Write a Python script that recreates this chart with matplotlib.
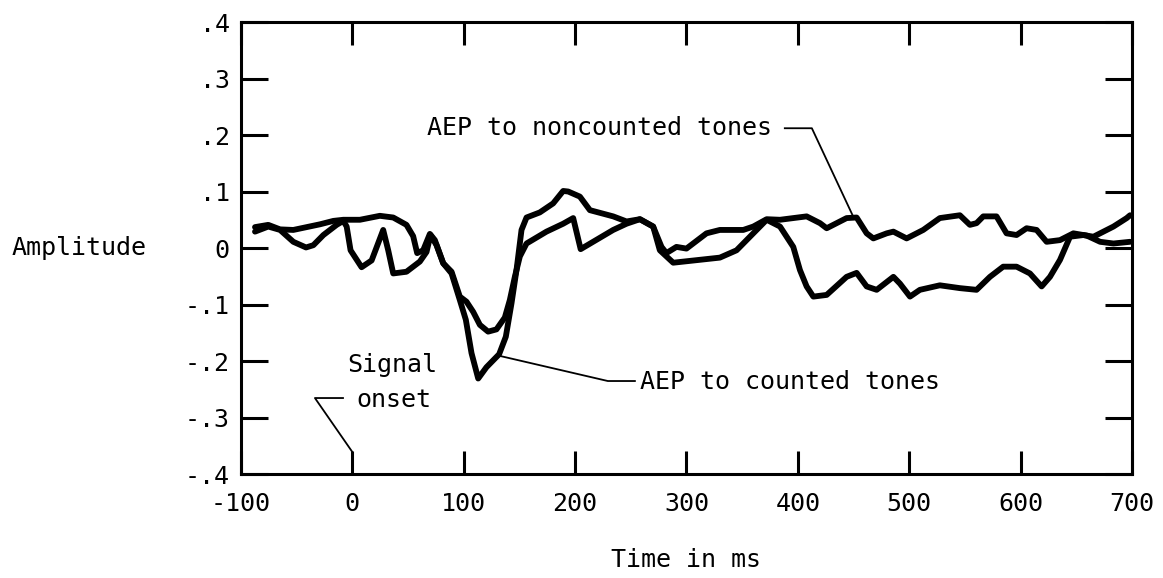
import matplotlib
matplotlib.use('Agg')
import matplotlib.pyplot as plt

plt.rcParams['font.family'] = ['DejaVu Sans Mono']

# AEP to counted tones (deep dip near 115 ms)
counted_t = [-87.4, -75.5, -64.9, -53.0, -41.6, -35.0, -26.0, -14.1, -8.1, -5.1, -1.6, 8.3,
             17.3, 27.7, 32.2, 36.7, 48.6, 60.6, 66.6, 70.2, 75.6, 81.6, 89.1, 96.5, 101.9,
             107.0, 113.0, 120.4, 131.8, 137.8, 142.9, 147.4, 151.9, 156.4, 168.3, 180.3,
             189.3, 193.8, 204.3, 213.3, 234.2, 246.2, 258.2, 270.1, 276.1, 288.1, 330.0,
             345.0, 363.0, 372.0, 384.0, 395.9, 401.9, 407.9, 413.9, 425.9, 443.8, 452.8,
             461.8, 470.8, 485.8, 491.7, 500.7, 509.6, 527.5, 545.5, 560.5, 572.5, 584.4,
             596.4, 608.4, 618.9, 626.4, 635.4, 644.4, 656.4, 665.4, 674.4, 683.4, 695.3, 698.3]
counted_v = [0.029, 0.038, 0.032, 0.011, 0.001, 0.005, 0.023, 0.041, 0.048, 0.038, -0.004, -0.034,
             -0.022, 0.032, -0.004, -0.045, -0.042, -0.024, -0.007, 0.023, 0.005, -0.027, -0.045,
             -0.092, -0.127, -0.186, -0.231, -0.211, -0.188, -0.157, -0.098, -0.039, 0.032, 0.054,
             0.063, 0.079, 0.101, 0.100, 0.091, 0.067, 0.056, 0.047, 0.051, 0.038, -0.004, -0.026,
             -0.017, -0.004, 0.032, 0.050, 0.038, 0.002, -0.039, -0.068, -0.086, -0.083, -0.051,
             -0.044, -0.068, -0.074, -0.051, -0.063, -0.086, -0.074, -0.066, -0.071, -0.074,
             -0.051, -0.033, -0.033, -0.045, -0.068, -0.051, -0.021, 0.020, 0.023, 0.020, 0.029,
             0.038, 0.053, 0.058]

# AEP to noncounted tones
noncounted_t = [-87.4, -75.5, -64.9, -53.0, -41.0, -29.0, -17.1, -8.1, 6.8, 24.7, 36.7, 48.6,
                54.6, 58.2, 63.6, 69.6, 74.1, 81.6, 89.1, 96.5, 102.5, 108.5, 114.5, 121.9,
                129.4, 136.9, 141.4, 145.9, 150.4, 156.4, 174.3, 189.3, 198.3, 205.0, 234.2,
                246.2, 258.2, 270.1, 277.6, 282.0, 291.0, 300.0, 318.0, 330.0, 351.0, 360.0,
                372.0, 384.0, 407.9, 419.9, 425.9, 443.8, 452.8, 461.8, 467.8, 479.8, 485.8,
                497.7, 512.6, 527.5, 545.5, 554.5, 560.5, 566.5, 578.4, 587.4, 596.4, 605.4,
                614.4, 623.4, 635.4, 647.4, 659.4, 671.4, 683.4, 698.3]
noncounted_v = [0.037, 0.041, 0.033, 0.032, 0.037, 0.042, 0.048, 0.050, 0.050, 0.057, 0.054, 0.041,
                0.021, -0.009, -0.004, 0.025, 0.014, -0.027, -0.042, -0.086, -0.095, -0.113,
                -0.136, -0.148, -0.144, -0.123, -0.092, -0.051, -0.015, 0.008, 0.029, 0.043,
                0.053, -0.002, 0.032, 0.043, 0.051, 0.038, 0.002, -0.009, 0.002, -0.001, 0.026,
                0.032, 0.032, 0.038, 0.051, 0.050, 0.056, 0.044, 0.035, 0.053, 0.054, 0.026,
                0.017, 0.026, 0.029, 0.017, 0.032, 0.053, 0.058, 0.041, 0.044, 0.056, 0.056,
                0.026, 0.023, 0.035, 0.032, 0.011, 0.014, 0.026, 0.022, 0.011, 0.008, 0.011]

x_ticks = [-100, 0, 100, 200, 300, 400, 500, 600, 700]
x_labels = ['-100', '0', '100', '200', '300', '400', '500', '600', '700']
y_ticks = [-0.4, -0.3, -0.2, -0.1, 0, 0.1, 0.2, 0.3, 0.4]
y_labels = ['-.4', '-.3', '-.2', '-.1', '0', '.1', '.2', '.3', '.4']

fs = 18

fig = plt.figure(figsize=(11.63, 5.78), dpi=100)
ax = fig.add_axes([0.2072, 0.1799, 0.7661, 0.782])

ax.plot(counted_t, counted_v, color='black', lw=4.2, solid_joinstyle='round', solid_capstyle='round')
ax.plot(noncounted_t, noncounted_v, color='black', lw=4.2, solid_joinstyle='round', solid_capstyle='round')

ax.set_xlim(-100, 700)
ax.set_ylim(-0.4, 0.4)
ax.set_xticks(x_ticks)
ax.set_xticklabels(x_labels)
ax.set_yticks(y_ticks)
ax.set_yticklabels(y_labels)

ax.tick_params(axis='x', direction='in', length=16.5, width=2.2, top=True, bottom=True,
               labelsize=fs, pad=13)
ax.tick_params(axis='y', direction='in', length=19.5, width=2.2, left=True, right=True,
               labelsize=fs, pad=8)
for s in ax.spines.values():
    s.set_linewidth(2.2)

ax.set_ylabel('Amplitude', fontsize=fs, rotation=0, ha='left', va='center')
ax.yaxis.set_label_coords(-0.257, 0.5)
ax.set_xlabel('Time in ms', fontsize=fs, va='center')
ax.xaxis.set_label_coords(0.5, -0.19)

# annotations
ax.text(376.7, 0.212, 'AEP to noncounted tones', fontsize=fs, ha='right', va='center')
ax.plot([388.3, 412.6, 449.4], [0.212, 0.212, 0.057], color='black', lw=1.3)

ax.text(258.2, -0.237, 'AEP to counted tones', fontsize=fs, ha='left', va='center')
ax.plot([132.5, 229.4, 253.7], [-0.191, -0.2354, -0.2354], color='black', lw=1.3)

ax.text(35.5, -0.207, 'Signal', fontsize=fs, ha='center', va='center')
ax.text(37.3, -0.269, 'onset', fontsize=fs, ha='center', va='center')
ax.plot([-8.4, -33.6, 0, 0], [-0.2655, -0.2655, -0.361, -0.4], color='black', lw=1.3)

fig.savefig('out.png', dpi=100)
